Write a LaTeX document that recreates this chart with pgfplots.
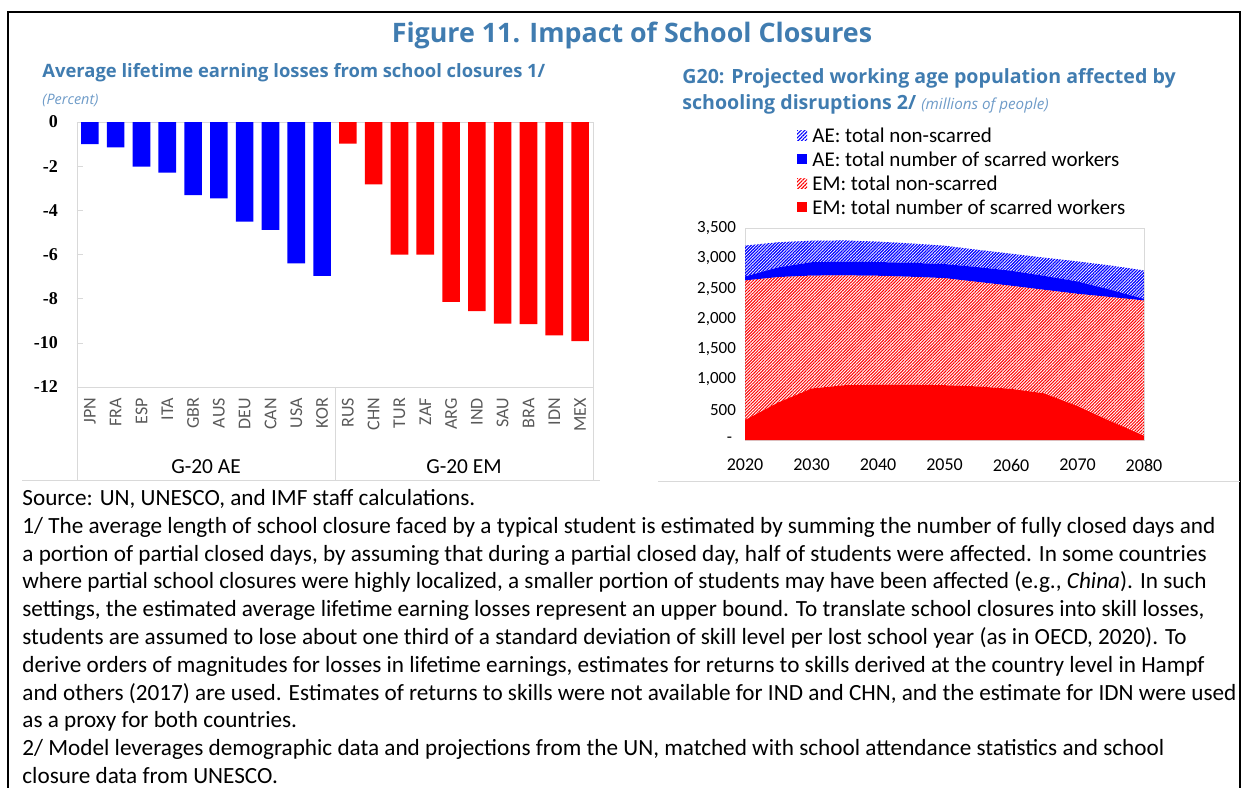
\documentclass[border=0pt]{standalone}
\usepackage{fontspec}
\setmainfont{Carlito}
\newfontfamily\serifticks{Liberation Serif}
\newfontfamily\headfont{Open Sans}
\usepackage{pgfplots}
\pgfplotsset{compat=1.18}
\usetikzlibrary{patterns.meta}
\definecolor{imfblue}{RGB}{64,124,176}
\definecolor{imflight}{RGB}{110,155,200}
\definecolor{gridgray}{RGB}{217,217,217}
\definecolor{labgray}{RGB}{89,89,89}
\definecolor{aeblue}{RGB}{0,0,255}
\definecolor{emred}{RGB}{255,0,0}

\begin{document}
\begin{tikzpicture}
\useasboundingbox (0,0) rectangle (622pt,-394pt);
\draw[line width=1.3pt] (4pt,-400pt) -- (4pt,-6pt) -- (620pt,-6pt) -- (620pt,-400pt);

\node[font=\headfont\bfseries\fontsize{13.4}{16}\selectfont, text=imfblue] at (316pt,-17.5pt) {Figure 11. Impact of School Closures};

% left panel
\node[anchor=west, font=\headfont\bfseries\fontsize{9.2}{11}\selectfont, text=imfblue, inner sep=0] at (21pt,-36.5pt) {Average lifetime earning losses from school closures 1/};
\node[anchor=west, font=\headfont\itshape\fontsize{7.2}{9}\selectfont, text=imflight, inner sep=0] at (21pt,-50pt) {(Percent)};

\begin{axis}[
  at={(38.5pt,-61pt)}, anchor=north west,
  scale only axis, width=258pt, height=132.5pt,
  xmin=-0.5, xmax=19.5, ymin=-12, ymax=0,
  ytick={-12,-10,...,0},
  xtick={0,...,19},
  xticklabels={JPN,FRA,ESP,ITA,GBR,AUS,DEU,CAN,USA,KOR,RUS,CHN,TUR,ZAF,ARG,IND,SAU,BRA,IDN,MEX},
  xticklabel style={rotate=90, anchor=east, font=\fontsize{9}{10}\selectfont, text=labgray, xshift=-2pt},
  major x tick style={draw=none},
  axis line style={gridgray},
  ytick pos=left, tick align=inside, major tick length=3pt,
  tick style={gridgray},
  yticklabel style={font=\serifticks\bfseries\fontsize{9}{10}\selectfont, xshift=-6pt},
  /pgf/number format/assume math mode=true,
  clip=false,
]
\addplot[ybar, bar width=8.8pt, fill=aeblue, draw=none] coordinates {
  (0,-1.00) (1,-1.15) (2,-2.02) (3,-2.29) (4,-3.31)
  (5,-3.46) (6,-4.51) (7,-4.88) (8,-6.40) (9,-6.97)};
\addplot[ybar, bar width=8.8pt, fill=emred, draw=none] coordinates {
  (10,-0.98) (11,-2.82) (12,-6.01) (13,-6.01) (14,-8.14)
  (15,-8.56) (16,-9.13) (17,-9.15) (18,-9.66) (19,-9.92)};
\draw[gridgray] (axis cs:-0.5,-12) -- ++(0pt,-46.5pt);
\draw[gridgray] (axis cs:9.5,-12) -- ++(0pt,-46.5pt);
\draw[gridgray] (axis cs:19.5,-12) -- ++(0pt,-46.5pt);
\node[font=\fontsize{10.7}{12}\selectfont] at (axis cs:4.5,-12) [yshift=-40pt] {G-20 AE};
\node[font=\fontsize{10.7}{12}\selectfont] at (axis cs:14.5,-12) [yshift=-40pt] {G-20 EM};
\end{axis}
\draw[gridgray] (11pt,-240pt) -- (300pt,-240pt);

% right panel
\node[anchor=west, font=\headfont\bfseries\fontsize{9.8}{12}\selectfont, text=imfblue, inner sep=0] at (341pt,-39pt) {G20: Projected working age population affected by};
\node[anchor=west, font=\headfont\bfseries\fontsize{9.8}{12}\selectfont, text=imfblue, inner sep=0] at (341pt,-52pt) {schooling disruptions 2/ {\mdseries\itshape\color{imflight}\fontsize{7.6}{9}\selectfont (millions of people)}};

\fill[pattern={Lines[angle=45,distance=1.3pt,line width=0.55pt]}, pattern color=aeblue] (398.5pt,-65pt) rectangle (403.5pt,-70pt);
\fill[aeblue] (398.5pt,-77pt) rectangle (403.5pt,-82pt);
\fill[pattern={Lines[angle=45,distance=1.3pt,line width=0.55pt]}, pattern color=emred] (398.5pt,-89pt) rectangle (403.5pt,-94pt);
\fill[emred] (398.5pt,-101pt) rectangle (403.5pt,-106pt);
\begin{scope}[every node/.style={anchor=west, inner sep=0, font=\fontsize{10.5}{12}\selectfont}]
\node at (406pt,-67.5pt) {AE: total non-scarred};
\node at (406pt,-79.5pt) {AE: total number of scarred workers};
\node at (406pt,-91.5pt) {EM: total non-scarred};
\node at (406pt,-103.5pt) {EM: total number of scarred workers};
\end{scope}

\begin{axis}[
  at={(372.5pt,-114pt)}, anchor=north west,
  scale only axis, width=199.5pt, height=106pt,
  xmin=2020, xmax=2080, ymin=0, ymax=3500,
  xtick={2020,2030,...,2080},
  xticklabels={2020,2030,2040,2050,2060,2070,2080},
  ytick={0,500,...,3500},
  yticklabels={-\ \ ,500,{1,000},{1,500},{2,000},{2,500},{3,000},{3,500}},
  xticklabel style={font=\fontsize{9}{10}\selectfont, yshift=-6pt},
  yticklabel style={font=\fontsize{8.5}{10}\selectfont, xshift=-1pt},
  axis line style={gridgray}, major tick length=0pt,
  stack plots=y,
]
\addplot[fill=emred, draw=none] coordinates {
  (2020,330) (2025,620) (2030,850) (2035,905) (2040,915) (2045,915) (2050,905)
  (2055,885) (2060,845) (2065,770) (2070,560) (2075,310) (2080,70)} \closedcycle;
\addplot[draw=none, pattern={Lines[angle=45,distance=1.1pt,line width=0.5pt]}, pattern color=emred] coordinates {
  (2020,2305) (2025,2070) (2030,1865) (2035,1813) (2040,1797) (2045,1780) (2050,1768)
  (2055,1725) (2060,1702) (2065,1710) (2070,1854) (2075,2050) (2080,2234)} \closedcycle;
\addplot[fill=aeblue, draw=none] coordinates {
  (2020,65) (2025,160) (2030,220) (2035,227) (2040,226) (2045,230) (2050,232)
  (2055,245) (2060,248) (2065,230) (2070,204) (2075,120) (2080,26)} \closedcycle;
\addplot[draw=none, pattern={Lines[angle=45,distance=1.1pt,line width=0.6pt]}, pattern color=aeblue] coordinates {
  (2020,510) (2025,415) (2030,355) (2035,350) (2040,337) (2045,320) (2050,303)
  (2055,285) (2060,281) (2065,300) (2070,331) (2075,400) (2080,470)} \closedcycle;
\end{axis}
\draw[gridgray] (329pt,-240.5pt) -- (620pt,-240.5pt);

% notes
\node[anchor=north west, align=left, inner sep=0, font=\fontsize{11.6}{13.9}\selectfont] at (11pt,-244.5pt) {%
Source: UN, UNESCO, and IMF staff calculations.\\
1/ The average length of school closure faced by a typical student is estimated by summing the number of fully closed days and\\
a portion of partial closed days, by assuming that during a partial closed day, half of students were affected. In some countries\\
where partial school closures were highly localized, a smaller portion of students may have been affected (e.g., \textit{China}). In such\\
settings, the estimated average lifetime earning losses represent an upper bound. To translate school closures into skill losses,\\
students are assumed to lose about one third of a standard deviation of skill level per lost school year (as in OECD, 2020). To\\
derive orders of magnitudes for losses in lifetime earnings, estimates for returns to skills derived at the country level in Hampf\\
and others (2017) are used. Estimates of returns to skills were not available for IND and CHN, and the estimate for IDN were used\\
as a proxy for both countries.\\
2/ Model leverages demographic data and projections from the UN, matched with school attendance statistics and school\\
closure data from UNESCO.};
\end{tikzpicture}
\end{document}
